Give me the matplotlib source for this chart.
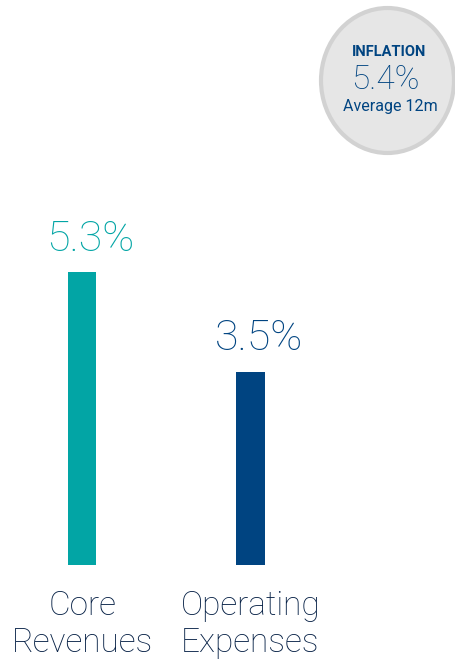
import matplotlib
matplotlib.use("Agg")
import matplotlib.pyplot as plt
from matplotlib.patches import Ellipse

categories = ["Core\nRevenues", "Operating\nExpenses"]
values = [5.3, 3.5]
value_labels = ["5.3%", "3.5%"]
bar_colors = ["#02A5A5", "#004481"]
inflation_value = "5.4%"

W, H = 456, 661
fig = plt.figure(figsize=(W / 100, H / 100), dpi=100)
plt.rcParams['font.family'] = ['Roboto', 'DejaVu Sans']

zero_px = 565
px_per_unit = 55.25
ax = fig.add_axes([0, (H - zero_px) / H, 1, zero_px / H])
unit = 168.2
x0 = 82.3
ax.set_xlim(-x0 / unit, (W - x0) / unit)
ax.set_ylim(0, zero_px / px_per_unit)
ax.axis("off")

xs = list(range(len(values)))
ax.bar(xs, values, width=0.168, color=bar_colors)
for x, v, lab, c in zip(xs, values, value_labels, bar_colors):
    ax.annotate(lab, (x, v), xytext=(6, 9), textcoords="offset points",
                ha="center", va="bottom", fontsize=31, color=c,
                fontweight="light")
    ax.annotate(categories[x], (x, 0), xytext=(0, -18), textcoords="offset points",
                ha="center", va="top", fontsize=24, color="#072146",
                fontweight="light", linespacing=1.2, annotation_clip=False)

# inflation badge in pixel coordinates
ov = fig.add_axes([0, 0, 1, 1], facecolor="none")
ov.set_xlim(0, W)
ov.set_ylim(H, 0)
ov.axis("off")
ov.add_patch(Ellipse((387.5, 80.5), 133, 145, facecolor="#e6e6e6",
                     edgecolor="#d2d2d2", linewidth=3))
ov.text(389, 52, "INFLATION", ha="center", va="center", fontsize=10.5,
        fontweight="bold", color="#004481")
ov.text(385, 80, inflation_value, ha="center", va="center", fontsize=24,
        fontweight="light", color="#004481")
ov.text(390, 107, "Average 12m", ha="center", va="center", fontsize=11.5,
        color="#004481")

fig.savefig("out.png", dpi=100)
